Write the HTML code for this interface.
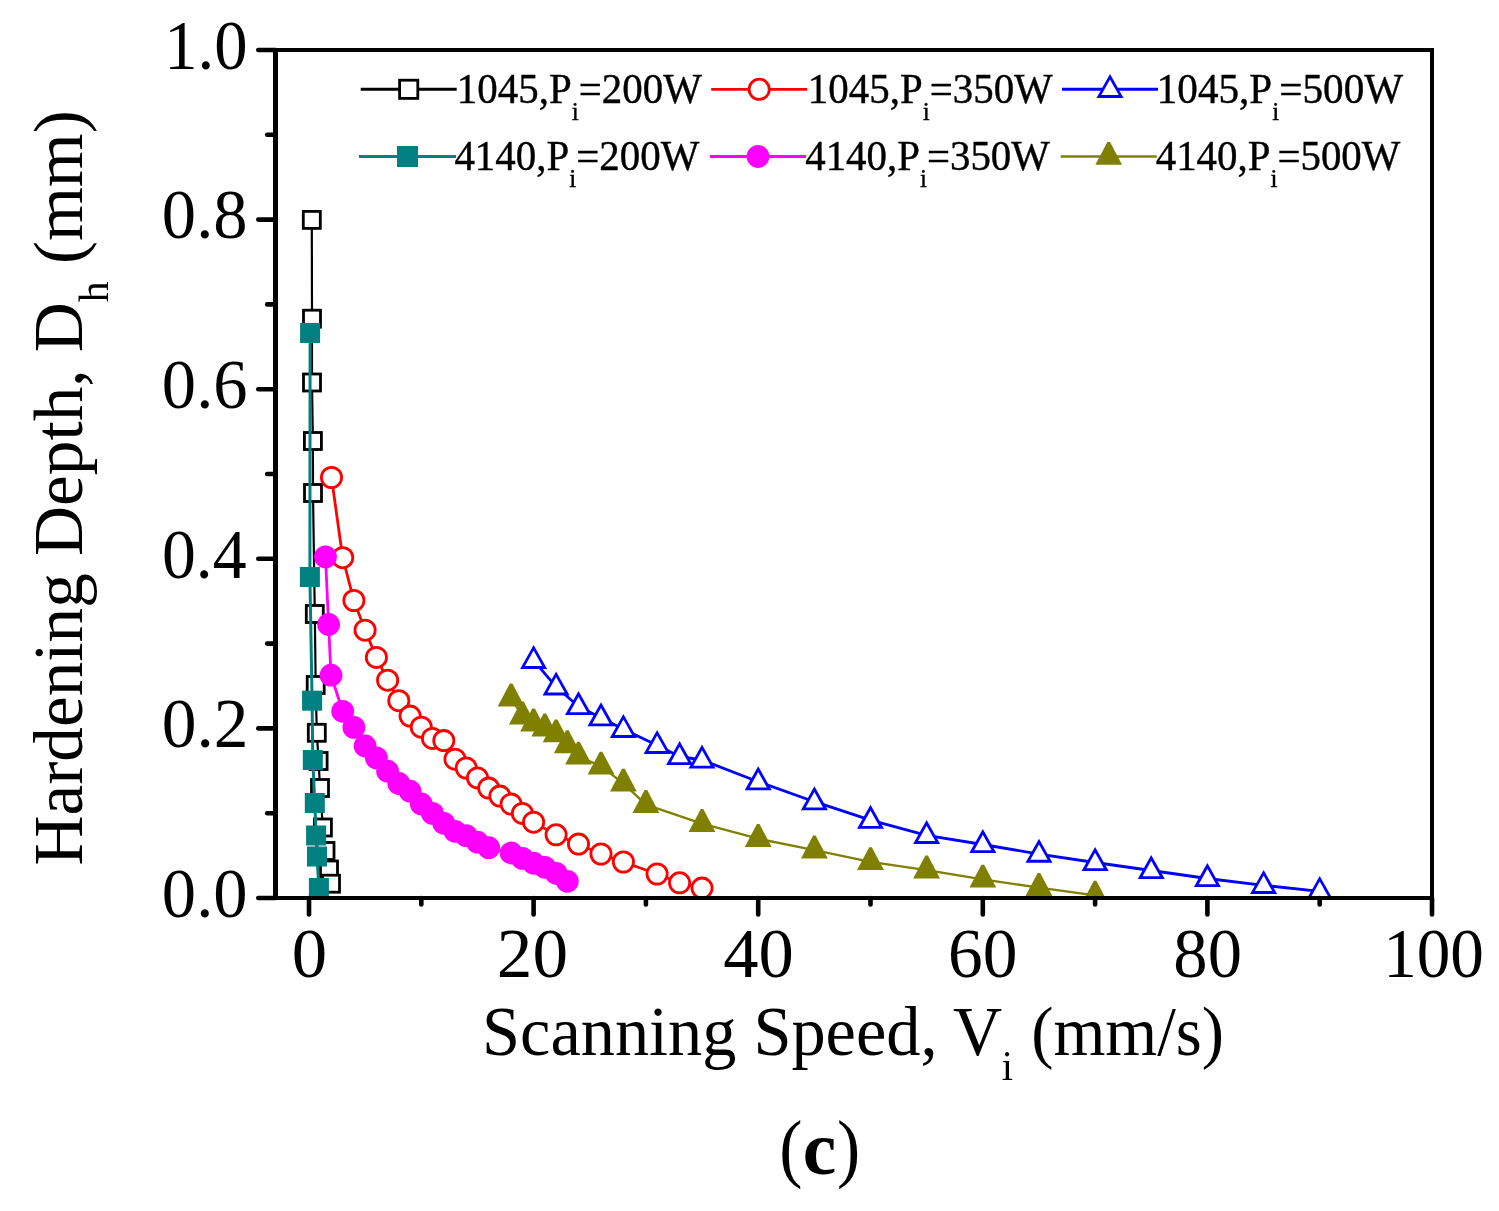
<!DOCTYPE html>
<html><head><meta charset="utf-8"><style>
html,body{margin:0;padding:0;background:#fff;}
svg{display:block;}
text{font-family:"Liberation Serif","Times New Roman",serif;fill:#000;}
</style></head><body>
<svg width="1499" height="1211" viewBox="0 0 1499 1211">
<rect width="1499" height="1211" fill="#fff"/>
<defs><clipPath id="pa"><rect x="275.5" y="50.0" width="1156.5" height="848.0"/></clipPath></defs>
<g clip-path="url(#pa)">
<polyline points="311.8,219.9 312,318.7 312,382.5 312.9,441 313,493 314.8,614 315.7,685 316.8,732.8 318.6,761 320,788 322.9,827.5 325.5,851 329,869.5 331,883.7" fill="none" stroke="#000" stroke-width="2.2" stroke-linejoin="round"/><rect x="303.3" y="211.4" width="17" height="17" fill="#fff" stroke="#000" stroke-width="2.8"/><rect x="303.5" y="310.2" width="17" height="17" fill="#fff" stroke="#000" stroke-width="2.8"/><rect x="303.5" y="374" width="17" height="17" fill="#fff" stroke="#000" stroke-width="2.8"/><rect x="304.4" y="432.5" width="17" height="17" fill="#fff" stroke="#000" stroke-width="2.8"/><rect x="304.5" y="484.5" width="17" height="17" fill="#fff" stroke="#000" stroke-width="2.8"/><rect x="306.3" y="605.5" width="17" height="17" fill="#fff" stroke="#000" stroke-width="2.8"/><rect x="307.2" y="676.5" width="17" height="17" fill="#fff" stroke="#000" stroke-width="2.8"/><rect x="308.3" y="724.3" width="17" height="17" fill="#fff" stroke="#000" stroke-width="2.8"/><rect x="310.1" y="752.5" width="17" height="17" fill="#fff" stroke="#000" stroke-width="2.8"/><rect x="311.5" y="779.5" width="17" height="17" fill="#fff" stroke="#000" stroke-width="2.8"/><rect x="314.4" y="819" width="17" height="17" fill="#fff" stroke="#000" stroke-width="2.8"/><rect x="317" y="842.5" width="17" height="17" fill="#fff" stroke="#000" stroke-width="2.8"/><rect x="320.5" y="861" width="17" height="17" fill="#fff" stroke="#000" stroke-width="2.8"/><rect x="322.5" y="875.2" width="17" height="17" fill="#fff" stroke="#000" stroke-width="2.8"/>
<polyline points="331.5,477.5 342.7,557.7 353.9,600.5 365.1,630.2 376.4,657.4 387.6,680.2 398.8,700.7 410.1,716.1 421.3,727.2 432.5,738.4 443.8,740.6 455,759.2 466.2,768 477.5,777.9 488.7,788.1 499.9,796.1 511.1,804.1 522.4,813.4 533.6,822.2 556.1,834.8 578.5,844.1 601,854 623.4,862 657.1,874 679.6,882.8 702,888.1" fill="none" stroke="#f00" stroke-width="2.8" stroke-linejoin="round"/><circle cx="331.5" cy="477.5" r="10.1" fill="#fff" stroke="#f00" stroke-width="2.8"/><circle cx="342.7" cy="557.7" r="10.1" fill="#fff" stroke="#f00" stroke-width="2.8"/><circle cx="353.9" cy="600.5" r="10.1" fill="#fff" stroke="#f00" stroke-width="2.8"/><circle cx="365.1" cy="630.2" r="10.1" fill="#fff" stroke="#f00" stroke-width="2.8"/><circle cx="376.4" cy="657.4" r="10.1" fill="#fff" stroke="#f00" stroke-width="2.8"/><circle cx="387.6" cy="680.2" r="10.1" fill="#fff" stroke="#f00" stroke-width="2.8"/><circle cx="398.8" cy="700.7" r="10.1" fill="#fff" stroke="#f00" stroke-width="2.8"/><circle cx="410.1" cy="716.1" r="10.1" fill="#fff" stroke="#f00" stroke-width="2.8"/><circle cx="421.3" cy="727.2" r="10.1" fill="#fff" stroke="#f00" stroke-width="2.8"/><circle cx="432.5" cy="738.4" r="10.1" fill="#fff" stroke="#f00" stroke-width="2.8"/><circle cx="443.8" cy="740.6" r="10.1" fill="#fff" stroke="#f00" stroke-width="2.8"/><circle cx="455" cy="759.2" r="10.1" fill="#fff" stroke="#f00" stroke-width="2.8"/><circle cx="466.2" cy="768" r="10.1" fill="#fff" stroke="#f00" stroke-width="2.8"/><circle cx="477.5" cy="777.9" r="10.1" fill="#fff" stroke="#f00" stroke-width="2.8"/><circle cx="488.7" cy="788.1" r="10.1" fill="#fff" stroke="#f00" stroke-width="2.8"/><circle cx="499.9" cy="796.1" r="10.1" fill="#fff" stroke="#f00" stroke-width="2.8"/><circle cx="511.1" cy="804.1" r="10.1" fill="#fff" stroke="#f00" stroke-width="2.8"/><circle cx="522.4" cy="813.4" r="10.1" fill="#fff" stroke="#f00" stroke-width="2.8"/><circle cx="533.6" cy="822.2" r="10.1" fill="#fff" stroke="#f00" stroke-width="2.8"/><circle cx="556.1" cy="834.8" r="10.1" fill="#fff" stroke="#f00" stroke-width="2.8"/><circle cx="578.5" cy="844.1" r="10.1" fill="#fff" stroke="#f00" stroke-width="2.8"/><circle cx="601" cy="854" r="10.1" fill="#fff" stroke="#f00" stroke-width="2.8"/><circle cx="623.4" cy="862" r="10.1" fill="#fff" stroke="#f00" stroke-width="2.8"/><circle cx="657.1" cy="874" r="10.1" fill="#fff" stroke="#f00" stroke-width="2.8"/><circle cx="679.6" cy="882.8" r="10.1" fill="#fff" stroke="#f00" stroke-width="2.8"/><circle cx="702" cy="888.1" r="10.1" fill="#fff" stroke="#f00" stroke-width="2.8"/>
<polyline points="533.6,660.3 556.1,686.8 578.5,706.5 601,717.7 623.4,729.3 657.1,745.3 679.6,756.5 702,760 758.2,781.7 814.4,801.7 870.5,820.2 926.6,835.4 982.8,844.5 1039,854.1 1095.1,862.5 1151.2,870.5 1207.4,878.5 1263.6,885.3 1319.7,891.3" fill="none" stroke="#00f" stroke-width="2.8" stroke-linejoin="round"/><polygon points="533.6,644.9 520.1,668.9 547.1,668.9" fill="#00f"/><polygon points="533.6,650.6 525,666 542.2,666" fill="#fff"/><polygon points="556.1,671.4 542.6,695.4 569.6,695.4" fill="#00f"/><polygon points="556.1,677.1 547.4,692.5 564.7,692.5" fill="#fff"/><polygon points="578.5,691.1 565,715.1 592,715.1" fill="#00f"/><polygon points="578.5,696.8 569.9,712.2 587.2,712.2" fill="#fff"/><polygon points="601,702.3 587.5,726.3 614.5,726.3" fill="#00f"/><polygon points="601,708 592.3,723.4 609.6,723.4" fill="#fff"/><polygon points="623.4,713.9 609.9,737.9 636.9,737.9" fill="#00f"/><polygon points="623.4,719.6 614.8,735 632.1,735" fill="#fff"/><polygon points="657.1,729.9 643.6,753.9 670.6,753.9" fill="#00f"/><polygon points="657.1,735.6 648.5,751 665.8,751" fill="#fff"/><polygon points="679.6,741.1 666.1,765.1 693.1,765.1" fill="#00f"/><polygon points="679.6,746.8 670.9,762.2 688.2,762.2" fill="#fff"/><polygon points="702,744.6 688.5,768.6 715.5,768.6" fill="#00f"/><polygon points="702,750.3 693.4,765.7 710.7,765.7" fill="#fff"/><polygon points="758.2,766.3 744.7,790.3 771.7,790.3" fill="#00f"/><polygon points="758.2,772 749.6,787.4 766.9,787.4" fill="#fff"/><polygon points="814.4,786.3 800.9,810.3 827.9,810.3" fill="#00f"/><polygon points="814.4,792 805.7,807.4 823,807.4" fill="#fff"/><polygon points="870.5,804.8 857,828.8 884,828.8" fill="#00f"/><polygon points="870.5,810.5 861.9,825.9 879.1,825.9" fill="#fff"/><polygon points="926.6,820 913.1,844 940.1,844" fill="#00f"/><polygon points="926.6,825.7 918,841.1 935.3,841.1" fill="#fff"/><polygon points="982.8,829.1 969.3,853.1 996.3,853.1" fill="#00f"/><polygon points="982.8,834.8 974.2,850.2 991.5,850.2" fill="#fff"/><polygon points="1039,838.7 1025.5,862.7 1052.5,862.7" fill="#00f"/><polygon points="1039,844.4 1030.3,859.8 1047.6,859.8" fill="#fff"/><polygon points="1095.1,847.1 1081.6,871.1 1108.6,871.1" fill="#00f"/><polygon points="1095.1,852.8 1086.4,868.2 1103.8,868.2" fill="#fff"/><polygon points="1151.2,855.1 1137.8,879.1 1164.8,879.1" fill="#00f"/><polygon points="1151.2,860.8 1142.6,876.2 1159.9,876.2" fill="#fff"/><polygon points="1207.4,863.1 1193.9,887.1 1220.9,887.1" fill="#00f"/><polygon points="1207.4,868.8 1198.8,884.2 1216.1,884.2" fill="#fff"/><polygon points="1263.6,869.9 1250.1,893.9 1277.1,893.9" fill="#00f"/><polygon points="1263.6,875.6 1254.9,891 1272.2,891" fill="#fff"/><polygon points="1319.7,875.9 1306.2,899.9 1333.2,899.9" fill="#00f"/><polygon points="1319.7,881.6 1311,897 1328.4,897" fill="#fff"/>
<polyline points="310.1,333 309.9,577 312.1,700.7 312.8,760 314.8,803 316.1,835.5 317,856.5 318.9,888" fill="none" stroke="#008080" stroke-width="3" stroke-linejoin="round"/><rect x="300.1" y="323" width="20" height="20" fill="#008080"/><rect x="299.9" y="567" width="20" height="20" fill="#008080"/><rect x="302.1" y="690.7" width="20" height="20" fill="#008080"/><rect x="302.8" y="750" width="20" height="20" fill="#008080"/><rect x="304.8" y="793" width="20" height="20" fill="#008080"/><rect x="306.1" y="825.5" width="20" height="20" fill="#008080"/><rect x="307" y="846.5" width="20" height="20" fill="#008080"/><rect x="308.9" y="878" width="20" height="20" fill="#008080"/>
<polyline points="325.5,556.9 328.6,624.5 331,675.2 342.7,711.3 353.9,727.4 365.1,746 376.4,757.9 387.6,771.2 398.8,783.5 410.1,791.2 421.3,804 432.5,813.4 443.8,823.3 455,831.3 466.2,835.6 477.5,842.2 488.7,847.7 511.1,853 522.4,858.4 533.6,863.2 544.8,867.3 556.1,873.3 567.3,881.3" fill="none" stroke="#f0f" stroke-width="2.8" stroke-linejoin="round"/><circle cx="325.5" cy="556.9" r="11.4" fill="#f0f"/><circle cx="328.6" cy="624.5" r="11.4" fill="#f0f"/><circle cx="331" cy="675.2" r="11.4" fill="#f0f"/><circle cx="342.7" cy="711.3" r="11.4" fill="#f0f"/><circle cx="353.9" cy="727.4" r="11.4" fill="#f0f"/><circle cx="365.1" cy="746" r="11.4" fill="#f0f"/><circle cx="376.4" cy="757.9" r="11.4" fill="#f0f"/><circle cx="387.6" cy="771.2" r="11.4" fill="#f0f"/><circle cx="398.8" cy="783.5" r="11.4" fill="#f0f"/><circle cx="410.1" cy="791.2" r="11.4" fill="#f0f"/><circle cx="421.3" cy="804" r="11.4" fill="#f0f"/><circle cx="432.5" cy="813.4" r="11.4" fill="#f0f"/><circle cx="443.8" cy="823.3" r="11.4" fill="#f0f"/><circle cx="455" cy="831.3" r="11.4" fill="#f0f"/><circle cx="466.2" cy="835.6" r="11.4" fill="#f0f"/><circle cx="477.5" cy="842.2" r="11.4" fill="#f0f"/><circle cx="488.7" cy="847.7" r="11.4" fill="#f0f"/><circle cx="511.1" cy="853" r="11.4" fill="#f0f"/><circle cx="522.4" cy="858.4" r="11.4" fill="#f0f"/><circle cx="533.6" cy="863.2" r="11.4" fill="#f0f"/><circle cx="544.8" cy="867.3" r="11.4" fill="#f0f"/><circle cx="556.1" cy="873.3" r="11.4" fill="#f0f"/><circle cx="567.3" cy="881.3" r="11.4" fill="#f0f"/>
<polyline points="511.1,698.1 522.4,716.1 533.6,723.1 544.8,728.1 556.1,734 567.3,744.9 578.5,756.3 601,766.3 623.4,783.3 645.9,804.6 702,823.7 758.2,838.7 814.4,850.2 870.5,861.8 926.6,870.2 982.8,879.3 1039,887.7 1095.1,895.4" fill="none" stroke="#808000" stroke-width="2.3" stroke-linejoin="round"/><polygon points="509.8,683.5 512.4,683.5 524.5,706.4 497.7,706.4" fill="#808000"/><polygon points="521.1,701.5 523.7,701.5 535.8,724.4 509,724.4" fill="#808000"/><polygon points="532.3,708.5 534.9,708.5 547,731.4 520.2,731.4" fill="#808000"/><polygon points="543.5,713.5 546.1,713.5 558.2,736.4 531.4,736.4" fill="#808000"/><polygon points="554.8,719.4 557.4,719.4 569.5,742.3 542.7,742.3" fill="#808000"/><polygon points="566,730.3 568.6,730.3 580.7,753.2 553.9,753.2" fill="#808000"/><polygon points="577.2,741.7 579.8,741.7 591.9,764.6 565.1,764.6" fill="#808000"/><polygon points="599.7,751.7 602.3,751.7 614.4,774.6 587.6,774.6" fill="#808000"/><polygon points="622.1,768.7 624.7,768.7 636.8,791.6 610,791.6" fill="#808000"/><polygon points="644.6,790 647.2,790 659.3,812.9 632.5,812.9" fill="#808000"/><polygon points="700.8,809.1 703.3,809.1 715.4,832 688.6,832" fill="#808000"/><polygon points="756.9,824.1 759.5,824.1 771.6,847 744.8,847" fill="#808000"/><polygon points="813.1,835.6 815.6,835.6 827.8,858.5 801,858.5" fill="#808000"/><polygon points="869.2,847.2 871.8,847.2 883.9,870.1 857.1,870.1" fill="#808000"/><polygon points="925.4,855.6 927.9,855.6 940,878.5 913.2,878.5" fill="#808000"/><polygon points="981.5,864.7 984.1,864.7 996.2,887.6 969.4,887.6" fill="#808000"/><polygon points="1037.7,873.1 1040.2,873.1 1052.4,896 1025.5,896" fill="#808000"/><polygon points="1093.8,880.8 1096.4,880.8 1108.5,903.7 1081.7,903.7" fill="#808000"/>
</g>
<path d="M273,50H1434M273,898H1434" stroke="#000" stroke-width="4" fill="none"/>
<path d="M275.5,48V900" stroke="#000" stroke-width="5" fill="none"/>
<path d="M1432,48V900" stroke="#000" stroke-width="4" fill="none"/>
<line x1="258.3" y1="898" x2="275.5" y2="898" stroke="#000" stroke-width="4.6" stroke-linecap="round"/>
<line x1="267.2" y1="813.2" x2="275.5" y2="813.2" stroke="#000" stroke-width="4.6" stroke-linecap="round"/>
<line x1="258.3" y1="728.4" x2="275.5" y2="728.4" stroke="#000" stroke-width="4.6" stroke-linecap="round"/>
<line x1="267.2" y1="643.6" x2="275.5" y2="643.6" stroke="#000" stroke-width="4.6" stroke-linecap="round"/>
<line x1="258.3" y1="558.8" x2="275.5" y2="558.8" stroke="#000" stroke-width="4.6" stroke-linecap="round"/>
<line x1="267.2" y1="474" x2="275.5" y2="474" stroke="#000" stroke-width="4.6" stroke-linecap="round"/>
<line x1="258.3" y1="389.2" x2="275.5" y2="389.2" stroke="#000" stroke-width="4.6" stroke-linecap="round"/>
<line x1="267.2" y1="304.4" x2="275.5" y2="304.4" stroke="#000" stroke-width="4.6" stroke-linecap="round"/>
<line x1="258.3" y1="219.6" x2="275.5" y2="219.6" stroke="#000" stroke-width="4.6" stroke-linecap="round"/>
<line x1="267.2" y1="134.8" x2="275.5" y2="134.8" stroke="#000" stroke-width="4.6" stroke-linecap="round"/>
<line x1="258.3" y1="50" x2="275.5" y2="50" stroke="#000" stroke-width="4.6" stroke-linecap="round"/>
<line x1="309" y1="898.0" x2="309" y2="914.4" stroke="#000" stroke-width="4.6" stroke-linecap="round"/>
<line x1="421.3" y1="898.0" x2="421.3" y2="904.5" stroke="#000" stroke-width="4.6" stroke-linecap="round"/>
<line x1="533.6" y1="898.0" x2="533.6" y2="914.4" stroke="#000" stroke-width="4.6" stroke-linecap="round"/>
<line x1="645.9" y1="898.0" x2="645.9" y2="904.5" stroke="#000" stroke-width="4.6" stroke-linecap="round"/>
<line x1="758.2" y1="898.0" x2="758.2" y2="914.4" stroke="#000" stroke-width="4.6" stroke-linecap="round"/>
<line x1="870.5" y1="898.0" x2="870.5" y2="904.5" stroke="#000" stroke-width="4.6" stroke-linecap="round"/>
<line x1="982.8" y1="898.0" x2="982.8" y2="914.4" stroke="#000" stroke-width="4.6" stroke-linecap="round"/>
<line x1="1095.1" y1="898.0" x2="1095.1" y2="904.5" stroke="#000" stroke-width="4.6" stroke-linecap="round"/>
<line x1="1207.4" y1="898.0" x2="1207.4" y2="914.4" stroke="#000" stroke-width="4.6" stroke-linecap="round"/>
<line x1="1319.7" y1="898.0" x2="1319.7" y2="904.5" stroke="#000" stroke-width="4.6" stroke-linecap="round"/>
<line x1="1432" y1="898.0" x2="1432" y2="914.4" stroke="#000" stroke-width="4.6" stroke-linecap="round"/>
<text transform="matrix(0.9793,0,0,1,161.86,0)" x="0" y="916.8" font-size="70">0.0</text>
<text transform="matrix(0.9914,0,0,1,161.83,0)" x="0" y="747.2" font-size="70">0.2</text>
<text transform="matrix(0.9675,0,0,1,161.90,0)" x="0" y="577.6" font-size="70">0.4</text>
<text transform="matrix(0.9793,0,0,1,161.86,0)" x="0" y="408" font-size="70">0.6</text>
<text transform="matrix(0.9793,0,0,1,161.86,0)" x="0" y="238.4" font-size="70">0.8</text>
<text transform="matrix(0.9519,0,0,1,164.19,0)" x="0" y="68.8" font-size="70">1.0</text>
<text transform="matrix(1.0103,0,0,1,291.87,0)" x="0" y="976.8" font-size="70">0</text>
<text transform="matrix(1.0172,0,0,1,496.85,0)" x="0" y="976.8" font-size="70">20</text>
<text transform="matrix(1.0076,0,0,1,723.29,0)" x="0" y="976.8" font-size="70">40</text>
<text transform="matrix(0.9922,0,0,1,948.02,0)" x="0" y="976.8" font-size="70">60</text>
<text transform="matrix(0.9797,0,0,1,1173.36,0)" x="0" y="976.8" font-size="70">80</text>
<text transform="matrix(0.9594,0,0,1,1383.14,0)" x="0" y="976.8" font-size="70">100</text>
<text transform="matrix(0.9865,0,0,1,456.85,0)" stroke="#000" stroke-width="0.4" x="0" y="102.8" font-size="41.5">1045,P<tspan font-size="25.5" dy="17">i</tspan><tspan dy="-17">=200W</tspan></text>
<text transform="matrix(0.9861,0,0,1,807.86,0)" stroke="#000" stroke-width="0.4" x="0" y="102.8" font-size="41.5">1045,P<tspan font-size="25.5" dy="17">i</tspan><tspan dy="-17">=350W</tspan></text>
<text transform="matrix(0.9922,0,0,1,1156.73,0)" stroke="#000" stroke-width="0.4" x="0" y="102.8" font-size="41.5">1045,P<tspan font-size="25.5" dy="17">i</tspan><tspan dy="-17">=500W</tspan></text>
<text transform="matrix(0.9862,0,0,1,454.41,0)" stroke="#000" stroke-width="0.4" x="0" y="169.9" font-size="41.5">4140,P<tspan font-size="25.5" dy="17">i</tspan><tspan dy="-17">=200W</tspan></text>
<text transform="matrix(0.9854,0,0,1,805.21,0)" stroke="#000" stroke-width="0.4" x="0" y="169.9" font-size="41.5">4140,P<tspan font-size="25.5" dy="17">i</tspan><tspan dy="-17">=350W</tspan></text>
<text transform="matrix(0.9854,0,0,1,1155.71,0)" stroke="#000" stroke-width="0.4" x="0" y="169.9" font-size="41.5">4140,P<tspan font-size="25.5" dy="17">i</tspan><tspan dy="-17">=500W</tspan></text>
<text transform="matrix(0.9761,0,0,1,482.12,0)" x="0" y="1054.6" font-size="70">Scanning Speed,</text>
<text transform="matrix(0.9714,0,0,1,953.03,0)" x="0" y="1054.6" font-size="70">V</text>
<text transform="matrix(0.9600,0,0,1,1001.64,0)" x="0" y="1080" font-size="42">i</text>
<text transform="matrix(0.9541,0,0,1,1031.14,0)" x="0" y="1054.6" font-size="70">(mm/s)</text>
<text transform="matrix(0.9050,0,0,1,779.18,0)" x="0" y="1173" font-size="77">(</text>
<text transform="matrix(0.9793,0,0,1,802.86,0)" x="0" y="1173.8" font-size="77" font-weight="bold">c</text>
<text transform="matrix(0.9050,0,0,1,837.09,0)" x="0" y="1173" font-size="77">)</text>
<line x1="360.7" y1="89.3" x2="456.7" y2="89.3" stroke="#000" stroke-width="3"/>
<rect x="399.6" y="80.2" width="18.2" height="18.2" fill="#fff" stroke="#000" stroke-width="2.8"/>
<line x1="711.2" y1="89.3" x2="807.2" y2="89.3" stroke="#f00" stroke-width="2.8"/>
<circle cx="759.2" cy="89.3" r="10.1" fill="#fff" stroke="#f00" stroke-width="2.8"/>
<line x1="1062" y1="89.3" x2="1158" y2="89.3" stroke="#00f" stroke-width="3"/>
<polygon points="1110,73.9 1096.5,97.9 1123.5,97.9" fill="#00f"/><polygon points="1110,79.6 1101.3,95 1118.7,95" fill="#fff"/>
<line x1="359" y1="156.5" x2="456" y2="156.5" stroke="#008080" stroke-width="3"/>
<rect x="397" y="146" width="21" height="21" fill="#008080"/>
<line x1="710" y1="156.5" x2="806" y2="156.5" stroke="#f0f" stroke-width="2.8"/>
<circle cx="758" cy="156.5" r="11.4" fill="#f0f"/>
<line x1="1060.7" y1="156.5" x2="1156.7" y2="156.5" stroke="#808000" stroke-width="2.3"/>
<polygon points="1107.4,141.9 1110,141.9 1122.1,164.8 1095.3,164.8" fill="#808000"/>
<text transform="translate(82.2,865.4) rotate(-90) scale(0.989,1)" x="0" y="0" font-size="70">Hardening Depth, D<tspan font-size="42" dy="25.8">h</tspan><tspan dy="-25.8"> (mm)</tspan></text>
</svg>
</body></html>
